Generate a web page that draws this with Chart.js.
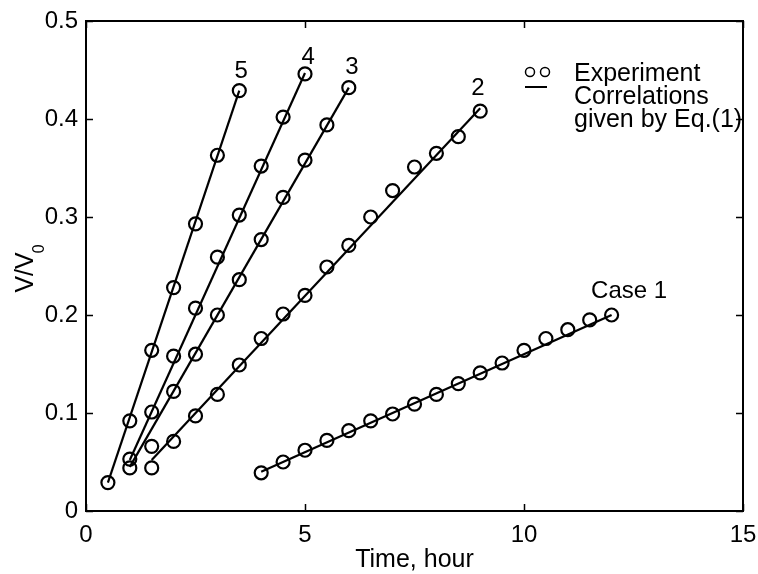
<!DOCTYPE html>
<html>
<head>
<meta charset="utf-8">
<script src="https://cdn.jsdelivr.net/npm/chart.js@4"></script>
<style>
  html, body { margin: 0; padding: 0; background: #fff; }
  #c { display: block; }
</style>
</head>
<body>
<canvas id="c" width="758" height="574"></canvas>
<script>
// Measured volume ratio V/V0 against time (hours) for five cases
const time1 = [4, 4.5, 5, 5.5, 6, 6.5, 7, 7.5, 8, 8.5, 9, 9.5, 10, 10.5, 11, 11.5, 12];
const case1 = [0.039, 0.050, 0.062, 0.072, 0.082, 0.092, 0.099, 0.109, 0.119, 0.130, 0.141, 0.151, 0.164, 0.176, 0.185, 0.195, 0.200];

const time2 = [1.5, 2, 2.5, 3, 3.5, 4, 4.5, 5, 5.5, 6, 6.5, 7, 7.5, 8, 8.5, 9];
const case2 = [0.044, 0.071, 0.097, 0.119, 0.149, 0.176, 0.201, 0.220, 0.249, 0.271, 0.300, 0.327, 0.351, 0.365, 0.382, 0.408];

const time3 = [1, 1.5, 2, 2.5, 3, 3.5, 4, 4.5, 5, 5.5, 6];
const case3 = [0.044, 0.066, 0.122, 0.160, 0.200, 0.236, 0.277, 0.320, 0.358, 0.394, 0.432];

const time4 = [1, 1.5, 2, 2.5, 3, 3.5, 4, 4.5, 5];
const case4 = [0.053, 0.101, 0.158, 0.207, 0.259, 0.302, 0.352, 0.402, 0.446];

const time5 = [0.5, 1, 1.5, 2, 2.5, 3, 3.5];
const case5 = [0.029, 0.092, 0.164, 0.228, 0.293, 0.363, 0.429];

// Straight-line correlations from Eq.(1): start and end of each case
const fitTime1 = [4, 12];    const fit1 = [0.040, 0.200];
const fitTime2 = [1.5, 9];   const fit2 = [0.052, 0.411];
const fitTime3 = [1, 6];     const fit3 = [0.045, 0.432];
const fitTime4 = [1, 5];     const fit4 = [0.052, 0.447];
const fitTime5 = [0.5, 3.5]; const fit5 = [0.029, 0.429];

// Axis ticks
const xTicks = [0, 5, 10, 15];
const yTicks = [0, 0.1, 0.2, 0.3, 0.4, 0.5];

// Case labels and where they sit (in data units)
const caseNames = ['Case 1', '2', '3', '4', '5'];
const caseNameX = [12.4, 8.95, 6.07, 5.07, 3.54];
const caseNameY = [0.2245, 0.431, 0.453, 0.463, 0.449];

const FONT = '"Liberation Sans", Arial, Helvetica, sans-serif';

function pts(xs, ys) { return xs.map((x, i) => ({ x: x, y: ys[i] })); }

function markerSet(xs, ys) {
  return {
    data: pts(xs, ys),
    showLine: false,
    pointStyle: 'circle',
    pointRadius: 6.5,
    pointBorderWidth: 2.2,
    pointBorderColor: '#000',
    pointBackgroundColor: 'rgba(0,0,0,0)',
    pointHoverRadius: 6.5
  };
}
function lineSet(xs, ys) {
  return {
    data: pts(xs, ys),
    showLine: true,
    borderColor: '#000',
    borderWidth: 2.2,
    pointRadius: 0,
    pointHoverRadius: 0,
    fill: false
  };
}

// Frame, inward ticks, axis titles, case labels and key
const decorations = {
  id: 'decorations',
  afterDraw(chart) {
    const ctx = chart.ctx;
    const a = chart.chartArea;
    const xs = chart.scales.x, ys = chart.scales.y;
    ctx.save();
    ctx.strokeStyle = '#000';
    ctx.fillStyle = '#000';

    // frame
    ctx.lineWidth = 2;
    ctx.strokeRect(a.left, a.top, a.right - a.left, a.bottom - a.top);

    // inward ticks on all four sides
    const tl = 7;
    ctx.lineWidth = 1.5;
    ctx.beginPath();
    xTicks.forEach(v => {
      const px = Math.round(xs.getPixelForValue(v)) + 0.5;
      ctx.moveTo(px, a.bottom); ctx.lineTo(px, a.bottom - tl);
      ctx.moveTo(px, a.top); ctx.lineTo(px, a.top + tl);
    });
    yTicks.forEach(v => {
      const py = Math.round(ys.getPixelForValue(v)) + 0.5;
      ctx.moveTo(a.left, py); ctx.lineTo(a.left + tl, py);
      ctx.moveTo(a.right, py); ctx.lineTo(a.right - tl, py);
    });
    ctx.stroke();

    // case labels
    ctx.font = '24px ' + FONT;
    ctx.textAlign = 'center';
    ctx.textBaseline = 'middle';
    caseNames.forEach((t, i) => {
      ctx.fillText(t, xs.getPixelForValue(caseNameX[i]), ys.getPixelForValue(caseNameY[i]));
    });

    // x-axis title
    ctx.font = '25px ' + FONT;
    ctx.textAlign = 'center';
    ctx.textBaseline = 'alphabetic';
    ctx.fillText('Time, hour', (a.left + a.right) / 2, 567);

    // y-axis title: V/V with subscript 0, rotated
    ctx.save();
    const mainFont = '25px ' + FONT, subFont = '16px ' + FONT;
    ctx.font = mainFont;
    const wMain = ctx.measureText('V/V').width;
    ctx.font = subFont;
    const wSub = ctx.measureText('0').width;
    const total = wMain + wSub;
    const cy = (a.top + a.bottom) / 2 + 2;
    ctx.translate(33, cy + total / 2);
    ctx.rotate(-Math.PI / 2);
    ctx.textAlign = 'left';
    ctx.font = mainFont;
    ctx.fillText('V/V', 0, 0);
    ctx.font = subFont;
    ctx.fillText('0', wMain - 1, 11);
    ctx.restore();

    // key
    ctx.lineWidth = 1.5;
    ctx.beginPath(); ctx.arc(530, 72, 4.5, 0, Math.PI * 2); ctx.stroke();
    ctx.beginPath(); ctx.arc(545, 72, 4.5, 0, Math.PI * 2); ctx.stroke();
    ctx.lineWidth = 2;
    ctx.beginPath(); ctx.moveTo(525, 87); ctx.lineTo(547, 87); ctx.stroke();
    ctx.font = '25px ' + FONT;
    ctx.textAlign = 'left';
    ctx.textBaseline = 'alphabetic';
    ctx.fillText('Experiment', 574, 81);
    ctx.fillText('Correlations', 574, 104);
    ctx.fillText('given by Eq.(1)', 574, 127);

    ctx.restore();
  }
};

new Chart(document.getElementById('c'), {
  type: 'scatter',
  data: {
    datasets: [
      lineSet(fitTime1, fit1), lineSet(fitTime2, fit2), lineSet(fitTime3, fit3),
      lineSet(fitTime4, fit4), lineSet(fitTime5, fit5),
      markerSet(time1, case1), markerSet(time2, case2), markerSet(time3, case3),
      markerSet(time4, case4), markerSet(time5, case5)
    ]
  },
  options: {
    responsive: false,
    animation: false,
    events: [],
    layout: { padding: { left: 0, top: 21, right: 15, bottom: 0 } },
    plugins: { legend: { display: false }, tooltip: { enabled: false }, title: { display: false } },
    scales: {
      x: {
        type: 'linear', min: 0, max: 15,
        afterBuildTicks(s) { s.ticks = xTicks.map(v => ({ value: v })); },
        afterFit(s) { s.height = 63; s.paddingLeft = 0; s.paddingRight = 0; },
        grid: { display: false, drawTicks: false, tickLength: 0 },
        border: { display: false },
        ticks: { color: '#000', font: { family: FONT, size: 24 }, padding: 10, maxRotation: 0,
                 callback: v => String(v) }
      },
      y: {
        type: 'linear', min: 0, max: 0.5,
        afterBuildTicks(s) { s.ticks = yTicks.map(v => ({ value: v })); },
        afterFit(s) { s.width = 86; s.paddingTop = 0; s.paddingBottom = 0; },
        grid: { display: false, drawTicks: false, tickLength: 0 },
        border: { display: false },
        ticks: { color: '#000', font: { family: FONT, size: 24 }, padding: 8,
                 callback: v => (v === 0 ? '0' : v.toFixed(1)) }
      }
    }
  },
  plugins: [decorations]
});
</script>
</body>
</html>
